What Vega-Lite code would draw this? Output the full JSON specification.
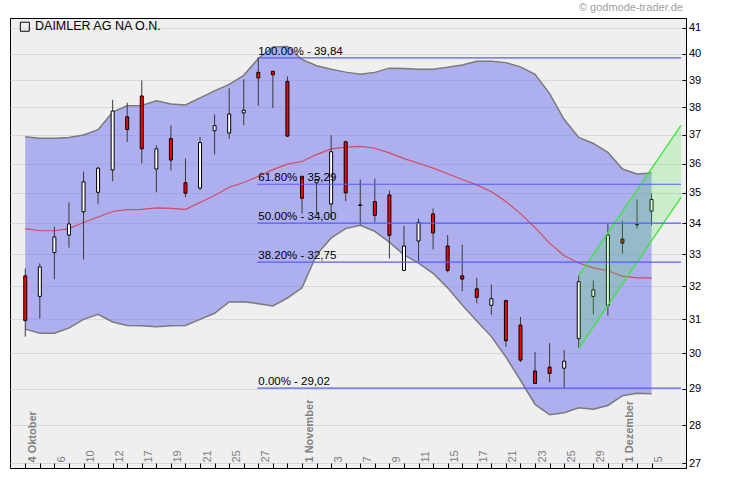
{
  "$schema": "https://vega.github.io/schema/vega-lite/v6.json",
  "width": 676,
  "height": 450,
  "autosize": {"type": "none"},
  "padding": {"left": 10, "top": 18, "right": 44, "bottom": 13},
  "background": "#FFFFFF",
  "title": {"text": "© godmode-trader.de", "anchor": "end", "frame": "group", "fontSize": 11, "fontWeight": "normal", "color": "#A0A0A0", "offset": 5, "dx": -3},
  "config": {
    "font": "Liberation Sans",
    "view": {"fill": "#EFEFEF", "stroke": "#000000", "strokeWidth": 1}
  },
  "data": {"values": [
    {"i": 0, "d": "2011-10-04", "o": 32.32, "h": 32.55, "l": 30.49, "c": 30.96, "up": 36.94, "lo": 30.71, "ma": 33.82},
    {"i": 1, "d": "2011-10-05", "o": 31.69, "h": 32.71, "l": 31.02, "c": 32.60, "up": 36.88, "lo": 30.59, "ma": 33.75},
    {"i": 2, "d": "2011-10-06", "o": 33.05, "h": 33.88, "l": 32.22, "c": 33.55, "up": 36.88, "lo": 30.59, "ma": 33.75},
    {"i": 3, "d": "2011-10-07", "o": 33.61, "h": 34.68, "l": 33.21, "c": 33.97, "up": 36.91, "lo": 30.74, "ma": 33.82},
    {"i": 4, "d": "2011-10-10", "o": 34.37, "h": 35.72, "l": 32.83, "c": 35.37, "up": 37.00, "lo": 31.00, "ma": 34.02},
    {"i": 5, "d": "2011-10-11", "o": 35.02, "h": 35.88, "l": 34.62, "c": 35.84, "up": 37.19, "lo": 31.15, "ma": 34.20},
    {"i": 6, "d": "2011-10-12", "o": 35.78, "h": 38.27, "l": 35.39, "c": 37.86, "up": 37.82, "lo": 30.92, "ma": 34.38},
    {"i": 7, "d": "2011-10-13", "o": 37.65, "h": 38.16, "l": 36.75, "c": 37.19, "up": 38.05, "lo": 30.82, "ma": 34.44},
    {"i": 8, "d": "2011-10-17", "o": 38.41, "h": 38.99, "l": 36.00, "c": 36.51, "up": 38.06, "lo": 30.81, "ma": 34.45},
    {"i": 9, "d": "2011-10-18", "o": 35.81, "h": 36.63, "l": 35.02, "c": 36.51, "up": 38.23, "lo": 30.78, "ma": 34.50},
    {"i": 10, "d": "2011-10-19", "o": 36.87, "h": 37.34, "l": 35.76, "c": 36.12, "up": 38.12, "lo": 30.81, "ma": 34.48},
    {"i": 11, "d": "2011-10-20", "o": 35.34, "h": 36.17, "l": 34.85, "c": 34.99, "up": 38.08, "lo": 30.82, "ma": 34.45},
    {"i": 12, "d": "2011-10-21", "o": 35.16, "h": 36.92, "l": 35.09, "c": 36.73, "up": 38.34, "lo": 31.00, "ma": 34.68},
    {"i": 13, "d": "2011-10-24", "o": 37.15, "h": 37.73, "l": 36.31, "c": 37.33, "up": 38.60, "lo": 31.18, "ma": 34.91},
    {"i": 14, "d": "2011-10-25", "o": 37.07, "h": 38.69, "l": 36.86, "c": 37.75, "up": 38.84, "lo": 31.52, "ma": 35.19},
    {"i": 15, "d": "2011-10-26", "o": 37.79, "h": 39.03, "l": 37.35, "c": 37.89, "up": 39.18, "lo": 31.53, "ma": 35.35},
    {"i": 16, "d": "2011-10-27", "o": 39.29, "h": 39.84, "l": 38.05, "c": 39.08, "up": 39.82, "lo": 31.47, "ma": 35.56},
    {"i": 17, "d": "2011-10-28", "o": 39.33, "h": 39.34, "l": 37.97, "c": 39.20, "up": 40.26, "lo": 31.40, "ma": 35.79},
    {"i": 18, "d": "2011-10-31", "o": 38.95, "h": 39.14, "l": 36.92, "c": 36.96, "up": 40.28, "lo": 31.64, "ma": 35.98},
    {"i": 19, "d": "2011-11-01", "o": 35.56, "h": 35.58, "l": 34.31, "c": 34.82, "up": 39.78, "lo": 31.95, "ma": 36.07},
    {"i": 20, "d": "2011-11-02", "o": 35.34, "h": 35.47, "l": 34.30, "c": 35.45, "up": 39.54, "lo": 32.98, "ma": 36.31},
    {"i": 21, "d": "2011-11-03", "o": 34.63, "h": 36.99, "l": 34.15, "c": 36.41, "up": 39.41, "lo": 33.52, "ma": 36.51},
    {"i": 22, "d": "2011-11-04", "o": 36.76, "h": 36.80, "l": 34.72, "c": 35.00, "up": 39.30, "lo": 33.82, "ma": 36.57},
    {"i": 23, "d": "2011-11-07", "o": 34.60, "h": 35.45, "l": 33.94, "c": 34.58, "up": 39.22, "lo": 33.93, "ma": 36.60},
    {"i": 24, "d": "2011-11-08", "o": 34.71, "h": 35.48, "l": 34.04, "c": 34.25, "up": 39.29, "lo": 33.73, "ma": 36.53},
    {"i": 25, "d": "2011-11-09", "o": 34.93, "h": 35.08, "l": 32.86, "c": 33.60, "up": 39.45, "lo": 33.38, "ma": 36.37},
    {"i": 26, "d": "2011-11-10", "o": 32.49, "h": 33.91, "l": 32.47, "c": 33.26, "up": 39.44, "lo": 32.98, "ma": 36.17},
    {"i": 27, "d": "2011-11-11", "o": 33.42, "h": 34.14, "l": 32.77, "c": 34.02, "up": 39.41, "lo": 32.72, "ma": 36.01},
    {"i": 28, "d": "2011-11-14", "o": 34.30, "h": 34.48, "l": 33.15, "c": 33.68, "up": 39.41, "lo": 32.40, "ma": 35.84},
    {"i": 29, "d": "2011-11-15", "o": 33.26, "h": 33.61, "l": 32.43, "c": 32.49, "up": 39.48, "lo": 31.95, "ma": 35.65},
    {"i": 30, "d": "2011-11-16", "o": 32.32, "h": 33.30, "l": 31.85, "c": 32.22, "up": 39.57, "lo": 31.43, "ma": 35.45},
    {"i": 31, "d": "2011-11-17", "o": 31.92, "h": 32.26, "l": 31.48, "c": 31.66, "up": 39.71, "lo": 30.95, "ma": 35.27},
    {"i": 32, "d": "2011-11-18", "o": 31.42, "h": 32.05, "l": 31.13, "c": 31.62, "up": 39.71, "lo": 30.49, "ma": 35.04},
    {"i": 33, "d": "2011-11-21", "o": 31.56, "h": 31.59, "l": 30.19, "c": 30.37, "up": 39.66, "lo": 29.90, "ma": 34.71},
    {"i": 34, "d": "2011-11-22", "o": 30.83, "h": 31.07, "l": 29.76, "c": 29.81, "up": 39.50, "lo": 29.24, "ma": 34.31},
    {"i": 35, "d": "2011-11-23", "o": 29.50, "h": 30.04, "l": 29.15, "c": 29.15, "up": 39.22, "lo": 28.57, "ma": 33.85},
    {"i": 36, "d": "2011-11-24", "o": 29.61, "h": 30.30, "l": 29.18, "c": 29.43, "up": 38.50, "lo": 28.29, "ma": 33.35},
    {"i": 37, "d": "2011-11-25", "o": 29.58, "h": 30.10, "l": 29.02, "c": 29.78, "up": 37.55, "lo": 28.34, "ma": 32.95},
    {"i": 38, "d": "2011-11-28", "o": 30.43, "h": 32.33, "l": 30.16, "c": 32.14, "up": 36.91, "lo": 28.48, "ma": 32.72},
    {"i": 39, "d": "2011-11-29", "o": 31.69, "h": 32.18, "l": 31.14, "c": 31.89, "up": 36.70, "lo": 28.44, "ma": 32.57},
    {"i": 40, "d": "2011-11-30", "o": 31.42, "h": 33.99, "l": 31.11, "c": 33.61, "up": 36.39, "lo": 28.54, "ma": 32.48},
    {"i": 41, "d": "2011-12-01", "o": 33.48, "h": 34.08, "l": 33.02, "c": 33.35, "up": 35.81, "lo": 28.81, "ma": 32.31},
    {"i": 42, "d": "2011-12-02", "o": 33.94, "h": 34.78, "l": 33.83, "c": 33.96, "up": 35.64, "lo": 28.88, "ma": 32.26},
    {"i": 43, "d": "2011-12-05", "o": 34.39, "h": 34.98, "l": 33.92, "c": 34.78, "up": 35.67, "lo": 28.86, "ma": 32.26}
  ]},
  "layer": [
    {
      "mark": {"type": "area", "color": "#6B70EE", "opacity": 0.5},
      "encoding": {
        "x": {"field": "i", "type": "quantitative", "scale": {"domain": [-0.704, 45.02], "nice": false, "zero": false},
          "axis": {
            "title": null, "grid": false, "domainColor": "#000000", "tickColor": "#000000", "tickSize": -5, "tickCount": 60,
            "values": [0,1,2,3,4,5,6,7,8,9,10,11,12,13,14,15,16,17,18,19,20,21,22,23,24,25,26,27,28,29,30,31,32,33,34,35,36,37,38,39,40,41,42,43],
            "labelExpr": "['4 Oktober','','6','','10','','12','','17','','19','','21','','25','','27','','','1 November','','3','','7','','9','','11','','15','','17','','21','','23','','25','','29','','1 Dezember','','5'][datum.value]",
            "labelAngle": 270, "labelAlign": "left", "labelBaseline": "middle", "labelPadding": -1, "labelOffset": 7,
            "labelColor": "#808080", "labelFontSize": 11,
            "labelFontWeight": {"condition": {"test": "datum.value == 0 || datum.value == 19 || datum.value == 41", "value": "bold"}, "value": "normal"},
            "labelOverlap": false, "labelBound": false, "labelFlush": false
          }},
        "y": {"field": "up", "type": "quantitative", "scale": {"type": "log", "domain": [26.878, 41.395], "nice": false, "zero": false},
          "axis": {
            "title": null, "orient": "right", "values": [27,28,29,30,31,32,33,34,35,36,37,38,39,40,41], "tickCount": 60,
            "format": "d", "grid": true, "gridColor": "#D9D9D9", "domainColor": "#000000", "tickColor": "#000000",
            "tickSize": -4, "labelPadding": 6.5, "labelFontSize": 11, "labelColor": "#000000", "labelOverlap": false
          }},
        "y2": {"field": "lo"}
      }
    },
    {
      "mark": {"type": "line", "color": "#7A7A7A", "strokeWidth": 1.5},
      "encoding": {"x": {"field": "i", "type": "quantitative"}, "y": {"field": "up", "type": "quantitative"}}
    },
    {
      "mark": {"type": "line", "color": "#7A7A7A", "strokeWidth": 1.5},
      "encoding": {"x": {"field": "i", "type": "quantitative"}, "y": {"field": "lo", "type": "quantitative"}}
    },
    {
      "mark": {"type": "line", "color": "#D44A5E", "strokeWidth": 1.2},
      "encoding": {"x": {"field": "i", "type": "quantitative"}, "y": {"field": "ma", "type": "quantitative"}}
    },
    {
      "mark": {"type": "rule", "color": "#3A3A3A", "strokeWidth": 1},
      "encoding": {"x": {"field": "i", "type": "quantitative"}, "y": {"field": "l", "type": "quantitative"}, "y2": {"field": "h"}}
    },
    {
      "mark": {"type": "bar", "size": 3, "stroke": "#000000", "strokeWidth": 1},
      "encoding": {
        "x": {"field": "i", "type": "quantitative"},
        "y": {"field": "o", "type": "quantitative"},
        "y2": {"field": "c"},
        "fill": {"condition": {"test": "datum.c >= datum.o", "value": "#FFFFFF"}, "value": "#FF0000"}
      }
    },
    {
      "data": {"values": [
        {"i": 38, "top": 32.33, "bot": 30.15},
        {"i": 45.02, "top": 37.34, "bot": 34.85}
      ]},
      "layer": [
        {
          "mark": {"type": "area", "color": "#3CE63C", "opacity": 0.2},
          "encoding": {"x": {"field": "i", "type": "quantitative"}, "y": {"field": "top", "type": "quantitative"}, "y2": {"field": "bot"}}
        },
        {
          "mark": {"type": "line", "color": "#3CE63C", "strokeWidth": 1.3},
          "encoding": {"x": {"field": "i", "type": "quantitative"}, "y": {"field": "top", "type": "quantitative"}}
        },
        {
          "mark": {"type": "line", "color": "#3CE63C", "strokeWidth": 1.3},
          "encoding": {"x": {"field": "i", "type": "quantitative"}, "y": {"field": "bot", "type": "quantitative"}}
        }
      ]
    },
    {
      "data": {"values": [
        {"level": 39.84, "label": "100.00% - 39,84"},
        {"level": 35.29, "label": "61.80% - 35,29"},
        {"level": 34.00, "label": "50.00% - 34,00"},
        {"level": 32.75, "label": "38.20% - 32,75"},
        {"level": 29.02, "label": "0.00% - 29,02"}
      ]},
      "layer": [
        {
          "mark": {"type": "rule", "color": "#5A5AFF", "strokeWidth": 1.2},
          "encoding": {"x": {"datum": 15.93, "type": "quantitative"}, "x2": {"datum": 45.02}, "y": {"field": "level", "type": "quantitative"}}
        },
        {
          "mark": {"type": "text", "align": "left", "baseline": "alphabetic", "dx": 1, "dy": -3, "fontSize": 11.5, "color": "#000000"},
          "encoding": {"x": {"datum": 15.93, "type": "quantitative"}, "y": {"field": "level", "type": "quantitative"}, "text": {"field": "label"}}
        }
      ]
    },
    {
      "data": {"values": [{"name": "DAIMLER AG NA O.N."}]},
      "layer": [
        {
          "mark": {"type": "point", "shape": "square", "size": 81, "filled": false, "stroke": "#000000", "strokeWidth": 1, "opacity": 1},
          "encoding": {"x": {"datum": -0.03, "type": "quantitative"}, "y": {"datum": 41.05, "type": "quantitative"}}
        },
        {
          "mark": {"type": "text", "align": "left", "baseline": "middle", "fontSize": 12.5, "color": "#000000"},
          "encoding": {"x": {"datum": 0.67, "type": "quantitative"}, "y": {"datum": 41.06, "type": "quantitative"}, "text": {"field": "name"}}
        }
      ]
    }
  ]
}
